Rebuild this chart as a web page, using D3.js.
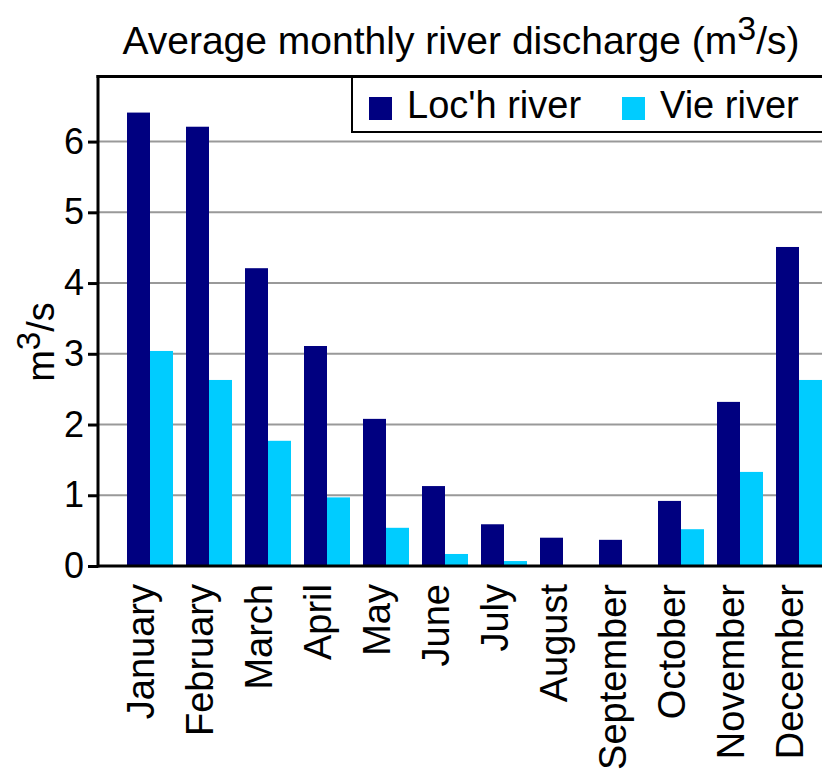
<!DOCTYPE html>
<html>
<head>
<meta charset="utf-8">
<script src="https://cdn.jsdelivr.net/npm/d3@7.9.0/dist/d3.min.js"></script>
<style>
  body { margin: 0; background: #fff; }
  svg { display: block; font-family: "Liberation Sans", Arial, sans-serif; }
</style>
</head>
<body>
<div id="chart"></div>
<script>
// data
const months = ['January', 'February', 'March', 'April', 'May', 'June',
  'July', 'August', 'September', 'October', 'November', 'December'];
const series = ["Loc'h river", 'Vie river'];
const lochValues = [6.41, 6.21, 4.21, 3.11, 2.08, 1.13, 0.59, 0.40, 0.37, 0.92, 2.32, 4.51];
const vieValues = [3.04, 2.63, 1.77, 0.97, 0.54, 0.17, 0.07, 0.01, 0.01, 0.52, 1.33, 2.63];
const yTicks = [0, 1, 2, 3, 4, 5, 6];
const colors = ['#000080', '#00ccff'];

const rows = months.map((m, i) => ({ month: m, values: [lochValues[i], vieValues[i]] }));

const width = 822, height = 770;
const plot = { left: 98, top: 76.5, bottom: 566, right: 860 };

const svg = d3.select('#chart').append('svg')
  .attr('width', width).attr('height', height);

const x0 = d3.scaleBand().domain(months).range([120.5, 828.5]).padding(0);
const x1 = d3.scaleBand().domain(series).range([6.5, 52.5]).padding(0);
const y = d3.scaleLinear().domain([0, 6.92]).range([plot.bottom, plot.top]);

// gridlines
svg.append('g')
  .selectAll('line')
  .data(yTicks.filter(d => d > 0))
  .join('line')
  .attr('x1', plot.left).attr('x2', plot.right)
  .attr('y1', d => y(d)).attr('y2', d => y(d))
  .attr('stroke', '#999').attr('stroke-width', 2);

// bars
svg.append('g')
  .selectAll('g')
  .data(rows)
  .join('g')
  .attr('transform', d => `translate(${x0(d.month)},0)`)
  .selectAll('rect')
  .data(d => d.values.map((v, i) => ({ key: series[i], v, i })))
  .join('rect')
  .attr('x', d => x1(d.key))
  .attr('width', x1.bandwidth())
  .attr('y', d => y(d.v))
  .attr('height', d => y(0) - y(d.v))
  .attr('fill', d => colors[d.i]);

// frame: top line
svg.append('line')
  .attr('x1', plot.left - 1.5).attr('x2', plot.right)
  .attr('y1', plot.top).attr('y2', plot.top)
  .attr('stroke', '#000').attr('stroke-width', 3);

// y axis
const yAxis = svg.append('g')
  .attr('transform', `translate(${plot.left},0)`)
  .call(d3.axisLeft(y).tickValues(yTicks).tickSize(10).tickPadding(4).tickFormat(d3.format('d')));
yAxis.select('.domain').remove();
yAxis.selectAll('.tick line').attr('stroke', '#000').attr('stroke-width', 3);
yAxis.selectAll('.tick text').attr('font-size', 36).attr('fill', '#000')
  .attr('font-family', '"Liberation Sans", Arial, sans-serif');
svg.append('line')
  .attr('x1', plot.left).attr('x2', plot.left)
  .attr('y1', plot.top - 1.5).attr('y2', plot.bottom + 1.5)
  .attr('stroke', '#000').attr('stroke-width', 3);

// x axis baseline
svg.append('line')
  .attr('x1', plot.left).attr('x2', plot.right)
  .attr('y1', y(0)).attr('y2', y(0))
  .attr('stroke', '#000').attr('stroke-width', 3);

// month labels
svg.append('g')
  .selectAll('text')
  .data(months)
  .join('text')
  .attr('transform', d => `translate(${x0(d) + x0.bandwidth() / 2 + 4},584) rotate(-90)`)
  .attr('text-anchor', 'end')
  .attr('font-size', 38)
  .text(d => d);

// title
const title = svg.append('text')
  .attr('x', 461).attr('y', 54)
  .attr('text-anchor', 'middle')
  .attr('font-size', 39);
title.append('tspan').text('Average monthly river discharge (m');
title.append('tspan').attr('font-size', 34).attr('dy', -14).text('3');
title.append('tspan').attr('dy', 14).text('/s)');

// y label
const ylab = svg.append('text')
  .attr('transform', 'translate(54,342) rotate(-90)')
  .attr('text-anchor', 'middle')
  .attr('font-size', 38);
ylab.append('tspan').text('m');
ylab.append('tspan').attr('font-size', 33).attr('dy', -14).text('3');
ylab.append('tspan').attr('dy', 14).text('/s');

// legend
const legend = svg.append('g');
legend.append('rect')
  .attr('x', 352).attr('y', 77).attr('width', 500).attr('height', 55)
  .attr('fill', '#fff').attr('stroke', '#000').attr('stroke-width', 2);
const legendX = d3.scaleOrdinal().domain(series).range([369, 622]);
const item = legend.selectAll('g.item')
  .data(series)
  .join('g')
  .attr('class', 'item')
  .attr('transform', d => `translate(${legendX(d)},97)`);
item.append('rect')
  .attr('width', 23).attr('height', 23)
  .attr('fill', (d, i) => colors[i]);
item.append('text')
  .attr('x', 38).attr('y', 21)
  .attr('font-size', 38)
  .text(d => d);
</script>
</body>
</html>
